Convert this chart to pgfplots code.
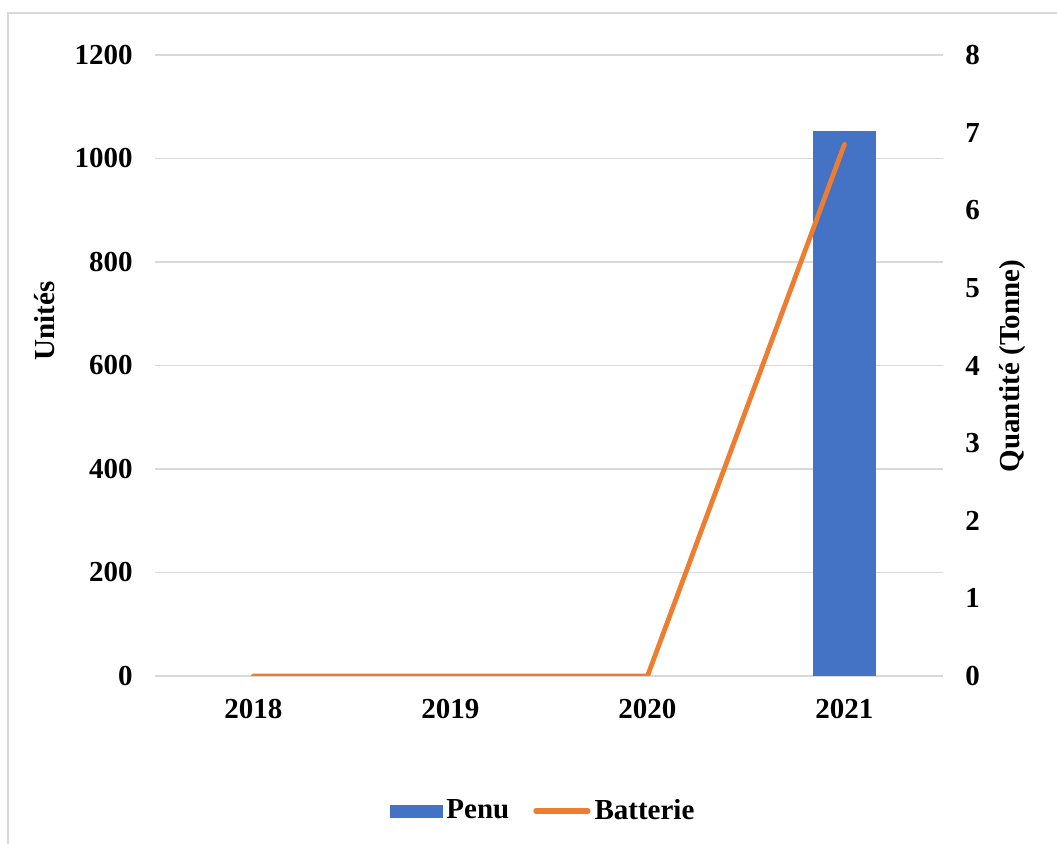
\documentclass[border=0pt]{standalone}
\usepackage{pgfplots}
\pgfplotsset{compat=1.18}
\usepackage{fontspec}
\setmainfont{Liberation Serif}
\definecolor{cblue}{HTML}{4472C4}
\definecolor{corange}{HTML}{ED7D31}
\definecolor{cgrid}{HTML}{D9D9D9}
\newcommand{\lab}{\fontsize{14.5}{16}\selectfont\bfseries}
\begin{document}
\begin{tikzpicture}
\useasboundingbox (0,0) rectangle (528.5pt,422pt);
\draw[cgrid, line width=1pt] (4pt,0) -- (4pt,415.5pt) -- (530pt,415.5pt);
\pgfplotsset{
  common/.style={
    at={(77.5pt,84pt)}, anchor=south west,
    scale only axis, width=394pt, height=310.5pt,
    xmin=-0.5, xmax=3.5,
    xtick={0,1,2,3}, xticklabels={2018,2019,2020,2021},
    major tick length=0pt,
    tick style={draw=none},
    axis line style={draw=none},
    /pgf/number format/assume math mode=true,
    /pgf/number format/1000 sep={},
    ticklabel style={font=\lab},
    label style={font=\lab},
  }
}
\begin{axis}[common,
  ymin=0, ymax=1200, ytick={0,200,...,1200},
  ymajorgrids, grid style={cgrid, line width=0.8pt},
  yticklabel style={xshift=-7.7pt},
  xticklabel style={yshift=-8pt},
  ylabel={Unités},
  ylabel style={at={(axis description cs:-0.1396,0.5717)}, anchor=center},
]
\addplot[ybar, bar width=31.5pt, fill=cblue, draw=none] coordinates {(3,1053)};
\end{axis}
\begin{axis}[common,
  axis y line*=right, axis x line=none,
  ymin=0, ymax=8, ytick={0,1,...,8},
  yticklabel style={xshift=7.7pt},
  ylabel={Quantité (Tonne)},
  ylabel style={at={(axis description cs:1.0876,0.4992)}, anchor=center},
  legend columns=2,
  legend style={at={(0.4937,-0.2174)}, anchor=center, draw=none, font=\lab,
    /tikz/every even column/.append style={column sep=10pt},
    inner sep=0pt},
]
\addlegendimage{legend image code/.code={\fill[cblue] (0pt,-3pt) rectangle (26pt,3pt);}}
\addlegendentry{Penu}
\addplot[corange, line width=2.4pt, line cap=round, line join=round,
  legend image code/.code={\draw[corange, line width=2.6pt, line cap=round] (1pt,0pt) -- (27pt,0pt);}]
  coordinates {(0,0) (1,0) (2,0) (3,6.85)};
\addlegendentry{Batterie}
\end{axis}
\end{tikzpicture}
\end{document}
